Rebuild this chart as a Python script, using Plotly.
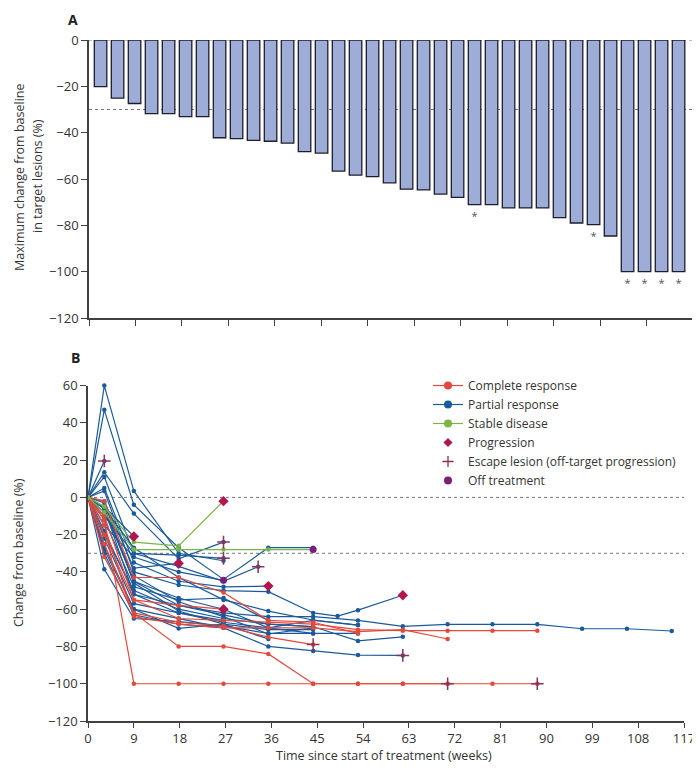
import plotly.graph_objects as go

# ---------------- Panel A data ----------------
max_change = [-20.1, -25.1, -27.4, -31.8, -31.8, -33.1, -33.1, -42.2, -42.6, -43.3,
              -43.7, -44.5, -48.2, -48.8, -56.6, -58.3, -59.0, -61.7, -64.4, -64.7,
              -66.5, -67.9, -71.1, -71.1, -72.5, -72.5, -72.5, -76.7, -79.0, -79.7,
              -84.6, -100, -100, -100, -100]
asterisk_bars = [22, 29, 31, 32, 33, 34]
a_yticks = [0, -20, -40, -60, -80, -100, -120]

# ---------------- Panel B data ----------------
WEEKS = [0, 3.2, 9, 17.8, 26.6, 35.4, 44.2, 53, 61.8, 70.6, 79.4, 88.2, 97, 105.8, 114.6]
b_xticks = [0, 9, 18, 27, 36, 45, 54, 63, 72, 81, 90, 99, 108, 117]
b_yticks = [60, 40, 20, 0, -20, -40, -60, -80, -100, -120]

# (custom weeks or None, % change values, terminal event)
complete_response = [
    (None, [0, -12, -100, -100, -100, -100, -100, -100, -100, -100], "escape"),
    (None, [0, -32, -62, -80, -80, -84, -100, -100, -100, -100, -100, -100], "escape"),
    (None, [0, -20, -55, -65, -66, -67, -68, -71, -71.5, -71.5, -71.5, -71.5], None),
    (None, [0, -15, -64, -68, -70, -70, -70, -72, -71, -76], None),
    (None, [0, -2, -43, -43, -51, -66, -67, -73], None),
    (None, [0, -25, -62, -67, -69, -75, -79], "escape"),
    (None, [0, -10, -55, -58, -60], "progression"),
]

partial_response = [
    (None, [0, 60, 3.4, -30, -34], None),
    (None, [0, 47, -4, -27, -44, -27, -27], None),
    (None, [0, 13.5, -8.7, -33, -24], "escape"),
    ([0, 3.2, 9, 17.8, 26.6, 33.4], [0, 11, -30, -37, -45, -37.2], "escape"),
    (None, [0, 5, -35, -45, -48, -47.6], "progression"),
    ([0, 3.2, 9, 17.8, 26.6, 35.4, 44.2, 49, 53, 61.8],
     [0, 3.4, -40, -47, -50, -50.6, -62, -63.7, -60.5, -52.5], "progression"),
    (None, [0, -6, -45, -58, -62, -64, -64, -66, -69.2, -68.1, -68.1, -68.1, -70.5, -70.5, -71.7], None),
    (None, [0, -20, -50, -60, -65, -68, -69.4, -77, -74.8], None),
    (None, [0, -26, -60, -65, -70, -80, -82.4, -84.6, -84.8], "escape"),
    (None, [0, -38.6, -65, -66.7, -69, -73, -73, -73], None),
    (None, [0, -5.9, -27, -43, -55, -61, -65.8, -68.5], None),
    (None, [0, 19.5], "escape"),
    (None, [0, -5, -21], "progression"),
    (None, [0, -10, -30, -31, -32.7], "escape"),
    (None, [0, -12, -48, -55, -54, -66], None),
    (None, [0, -18, -52, -58, -63, -68, -69.4], None),
    (None, [0, -22, -57, -62, -67, -70, -73], None),
    (None, [0, -6, -45, -54, -60, -70, -66, -68.5], None),
    (None, [0, -15, -32, -40, -44.5], "off"),
    (None, [0, -28, -60, -70.3, -68, -76], None),
    (None, [0, -8, -42, -56, -64, -73.3, -70], None),
    (None, [0, -30, -63, -68, -70], None),
    (None, [0, -6, -52, -62, -66], None),
    (None, [0, -3, -46, -61, -68, -71, -71], None),
    (None, [0, -2, -38, -35.4], "progression"),
]

stable_disease = [
    (None, [0, -5, -24, -26, -2], "progression"),
    (None, [0, -8, -28, -28, -28, -28, -28], "off"),
]

# ---------------- Styles ----------------
FONT = "Open Sans"
TXT = "#333333"
AX = "#404040"
RED = "#e4483b"
BLUE = "#1b5a9a"
GREEN = "#7ab547"
PROG = "#b3164e"
ESC = "#8e3057"
OFF = "#7a1d7d"
BAR_FILL = "#9eadd8"

# page body has an 8px margin -> figure is 692x762 and offsets are subtracted
PAGE_OFF = 8
W, H = 700 - PAGE_OFF, 770 - PAGE_OFF


def px(x):
    return (x - PAGE_OFF) / W


def py(y):
    return 1 - (y - PAGE_OFF) / H


# screen-pixel boxes of the two plot areas
A_box = dict(l=89, r=693, t=40, b=318)
B_box = dict(l=88, r=684, t=385.6, b=721)


def dom_x(b):
    return [px(b["l"]), px(b["r"])]


def dom_y(b):
    return [py(b["b"]), py(b["t"])]


fig = go.Figure()

# ---- Panel A bars ----
idx = list(range(len(max_change)))
bar_text = ["*" if i in asterisk_bars else "" for i in idx]
fig.add_trace(go.Bar(
    x=idx, y=max_change, xaxis="x", yaxis="y",
    marker=dict(color=BAR_FILL, line=dict(color="#1e1e2a", width=1.3)),
    text=bar_text, textposition="outside", cliponaxis=False,
    textfont=dict(color="#555555", size=11, family=FONT),
    showlegend=False, hoverinfo="skip",
))

# ---- Panel B lines ----
ends = {"progression": ([], []), "escape": ([], []), "off": ([], [])}


def add_group(group, color):
    for weeks, vals, end in group:
        w = weeks if weeks is not None else WEEKS[:len(vals)]
        fig.add_trace(go.Scatter(
            x=w, y=vals, xaxis="x2", yaxis="y2", mode="lines+markers",
            line=dict(color=color, width=1.2),
            marker=dict(color=color, size=4.5),
            showlegend=False, hoverinfo="skip", cliponaxis=False,
        ))
        if end:
            ends[end][0].append(w[-1])
            ends[end][1].append(vals[-1])


add_group(partial_response, BLUE)
add_group(complete_response, RED)
add_group(stable_disease, GREEN)

fig.add_trace(go.Scatter(
    x=ends["off"][0], y=ends["off"][1], xaxis="x2", yaxis="y2", mode="markers",
    marker=dict(color=OFF, size=7), showlegend=False, hoverinfo="skip", cliponaxis=False))
fig.add_trace(go.Scatter(
    x=ends["progression"][0], y=ends["progression"][1], xaxis="x2", yaxis="y2", mode="markers",
    marker=dict(color=PROG, size=8, symbol="diamond"), showlegend=False, hoverinfo="skip",
    cliponaxis=False))
fig.add_trace(go.Scatter(
    x=ends["escape"][0], y=ends["escape"][1], xaxis="x2", yaxis="y2", mode="markers",
    marker=dict(size=9, symbol="cross-thin", line=dict(color=ESC, width=1.5)),
    showlegend=False, hoverinfo="skip", cliponaxis=False))

# ---- Legend entries ----
legend_items = [
    ("Complete response", "lines+markers", dict(color=RED, size=8), dict(color=RED, width=1.2)),
    ("Partial response", "lines+markers", dict(color=BLUE, size=8), dict(color=BLUE, width=1.2)),
    ("Stable disease", "lines+markers", dict(color=GREEN, size=8), dict(color=GREEN, width=1.2)),
    ("Progression", "markers", dict(color=PROG, size=7, symbol="diamond"), None),
    ("Escape lesion (off-target progression)", "markers",
     dict(size=8, symbol="cross-thin", line=dict(color=ESC, width=1.3)), None),
    ("Off treatment", "markers", dict(color=OFF, size=8), None),
]
for name, mode, mk, ln in legend_items:
    kw = dict(x=[None], y=[None], xaxis="x2", yaxis="y2", name=name, mode=mode,
              marker=mk, showlegend=True, hoverinfo="skip")
    if ln:
        kw["line"] = ln
    fig.add_trace(go.Scatter(**kw))

# ---- Dashed reference lines ----
dash = dict(color="#777777", width=1, dash="3px,3px")
for yv in (0, -30):
    fig.add_shape(type="line", xref="x domain", yref="y", x0=0, x1=1, y0=yv, y1=yv,
                  line=dash, layer="below")
    fig.add_shape(type="line", xref="x2 domain", yref="y2", x0=0, x1=1, y0=yv, y1=yv,
                  line=dash, layer="below")

# ---- Axes ----
a_lo, a_hi = -0.68, 34.85
axis_common = dict(showline=True, linecolor=AX, linewidth=1.5, ticks="outside",
                   tickcolor=AX, tickwidth=1.3, showgrid=False, zeroline=False,
                   automargin=False,
                   tickfont=dict(family=FONT, size=13, color=TXT))
axis_nolabel = {k: v for k, v in axis_common.items() if k != "tickfont"}

fig.update_layout(
    width=W, height=H,
    margin=dict(l=0, r=0, t=0, b=0, autoexpand=False),
    paper_bgcolor="white", plot_bgcolor="white",
    font=dict(family=FONT, color=TXT),
    bargap=0.265,
    xaxis=dict(domain=dom_x(A_box), anchor="y", range=[a_lo, a_hi],
               tickmode="linear", tick0=a_lo, dtick=(a_hi - a_lo) / 13,
               showticklabels=False, ticklen=6, **axis_nolabel),
    yaxis=dict(domain=dom_y(A_box), anchor="x", range=[-120, 0],
               tickmode="array", tickvals=a_yticks, ticklen=6, **axis_common),
    xaxis2=dict(domain=dom_x(B_box), anchor="y2", range=[0, 117],
                tickmode="array", tickvals=b_xticks, ticklen=5, **axis_common),
    yaxis2=dict(domain=dom_y(B_box), anchor="x2", range=[-120, 60],
                tickmode="array", tickvals=b_yticks, ticklen=6, **axis_common),
    legend=dict(x=px(428), y=py(371), xanchor="left", yanchor="top",
                bgcolor="rgba(0,0,0,0)", borderwidth=0,
                font=dict(family=FONT, size=12, color=TXT), traceorder="normal"),
)

ann = [
    dict(text="<b>A</b>", x=px(73), y=py(19), font=dict(size=14, color="#222")),
    dict(text="<b>B</b>", x=px(75), y=py(358), font=dict(size=14, color="#222")),
    dict(text="Maximum change from baseline", x=px(19), y=py(178), textangle=-90,
         font=dict(size=12.5, color=TXT)),
    dict(text="in target lesions (%)", x=px(37), y=py(176), textangle=-90,
         font=dict(size=12.5, color=TXT)),
    dict(text="Change from baseline (%)", x=px(18), y=py(553), textangle=-90,
         font=dict(size=12.5, color=TXT)),
    dict(text="Time since start of treatment (weeks)", x=px(384), y=py(755),
         font=dict(size=12.5, color=TXT)),
]
for a in ann:
    fig.add_annotation(xref="paper", yref="paper", showarrow=False,
                       xanchor="center", yanchor="middle", font_family=FONT, **a)

fig.write_html("out.html")
